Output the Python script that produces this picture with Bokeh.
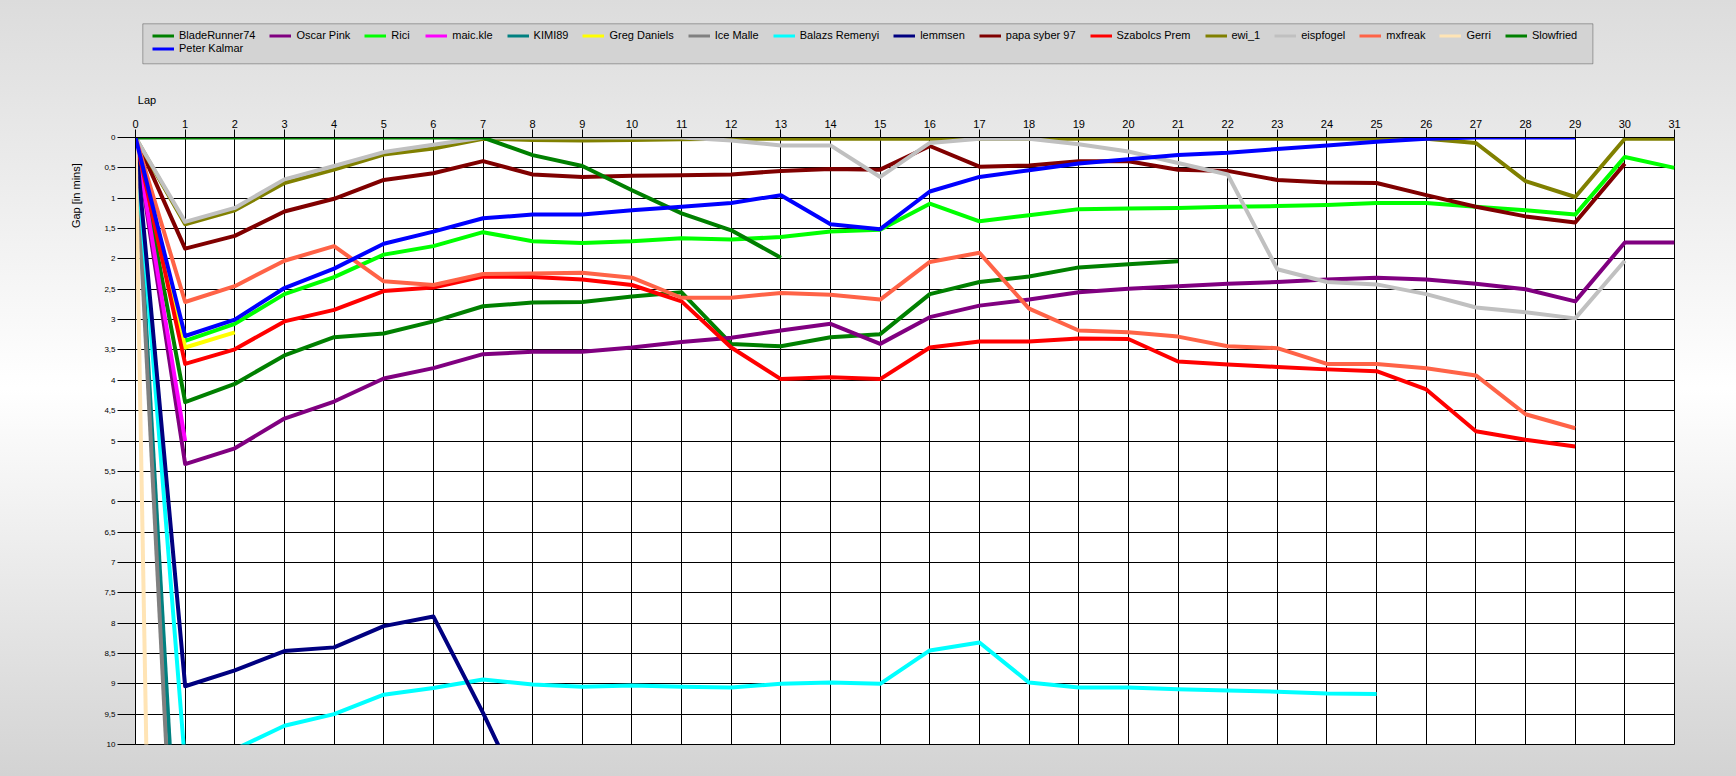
from bokeh.plotting import figure
from bokeh.layouts import column, row
from bokeh.models import (Range1d, FixedTicker, CustomJSTickFormatter, Legend,
                          LegendItem, Label, BoxAnnotation)
from bokeh.embed import file_html
from bokeh.resources import INLINE

# ---------------- data ----------------
laps = list(range(32))
y_ticks = [i * 0.5 for i in range(21)]

names = ["BladeRunner74", "Oscar Pink", "Rici", "maic.kle", "KIMI89", "Greg Daniels",
         "Ice Malle", "Balazs Remenyi", "lemmsen", "papa syber 97", "Szabolcs Prem",
         "ewi_1", "eispfogel", "mxfreak", "Gerri", "Slowfried", "Peter Kalmar"]
colors = ["#008000", "#800080", "#00FF00", "#FF00FF", "#008080", "#FFFF00",
          "#808080", "#00FFFF", "#000080", "#800000", "#FF0000",
          "#808000", "#C0C0C0", "#FF6347", "#FFE4B5", "#008000", "#0000FF"]

bladerunner = [0, 4.36, 4.06, 3.59, 3.29, 3.23, 3.03, 2.78, 2.72, 2.71, 2.62, 2.55, 3.40,
               3.44, 3.29, 3.24, 2.58, 2.38, 2.29, 2.14, 2.09, 2.04]
oscar = [0, 5.38, 5.12, 4.63, 4.35, 3.97, 3.80, 3.57, 3.53, 3.53, 3.46, 3.37, 3.30, 3.18,
         3.07, 3.40, 2.96, 2.77, 2.67, 2.55, 2.49, 2.45, 2.41, 2.38, 2.34, 2.31, 2.34,
         2.41, 2.50, 2.70, 1.73, 1.73]
rici = [0, 3.35, 3.07, 2.58, 2.30, 1.93, 1.79, 1.56, 1.71, 1.74, 1.71, 1.66, 1.68, 1.64,
        1.55, 1.52, 1.09, 1.38, 1.28, 1.18, 1.17, 1.16, 1.14, 1.13, 1.11, 1.08, 1.08,
        1.14, 1.20, 1.27, 0.32, 0.50]
maic = [0, 5.0]
kimi = [0, 14.5]
greg = [0, 3.46, 3.21]
icemalle = [0, 16.2]
balazs = [0, 10.33, 10.08, 9.69, 9.50, 9.18, 9.07, 8.93, 9.01, 9.05, 9.03, 9.05, 9.06,
          9.00, 8.98, 9.00, 8.45, 8.32, 8.98, 9.06, 9.06, 9.09, 9.11, 9.13, 9.16, 9.17]
lemmsen = [0, 9.04, 8.78, 8.46, 8.40, 8.05, 7.89, 9.48, 11.2]
papa = [0, 1.83, 1.62, 1.22, 1.01, 0.70, 0.59, 0.39, 0.61, 0.65, 0.63, 0.62, 0.61, 0.55,
        0.52, 0.53, 0.14, 0.48, 0.46, 0.39, 0.39, 0.53, 0.55, 0.70, 0.74, 0.75, 0.95,
        1.14, 1.30, 1.40, 0.43]
szabolcs = [0, 3.73, 3.49, 3.03, 2.84, 2.53, 2.47, 2.29, 2.30, 2.34, 2.43, 2.70, 3.46,
            3.98, 3.95, 3.98, 3.46, 3.36, 3.36, 3.31, 3.32, 3.69, 3.74, 3.78, 3.82, 3.85,
            4.15, 4.84, 4.98, 5.09]
ewi = [0, 1.43, 1.20, 0.75, 0.53, 0.28, 0.18, 0.02, 0.04, 0.05, 0.04, 0.03, 0.02, 0.02,
       0.02, 0.02, 0.02, 0.02, 0.02, 0.02, 0.02, 0.02, 0.02, 0.02, 0.02, 0.02, 0.02,
       0.09, 0.72, 0.98, 0.02, 0.02]
eispfogel = [0, 1.39, 1.16, 0.69, 0.47, 0.24, 0.12, 0.0, 0.0, 0.0, 0.0, 0.0, 0.05, 0.13,
             0.13, 0.65, 0.09, 0.02, 0.02, 0.11, 0.23, 0.42, 0.61, 2.17, 2.38, 2.42, 2.58,
             2.80, 2.88, 2.98, 2.03]
mxfreak = [0, 2.71, 2.45, 2.03, 1.79, 2.37, 2.43, 2.25, 2.24, 2.23, 2.31, 2.64, 2.64,
           2.56, 2.59, 2.67, 2.05, 1.90, 2.82, 3.18, 3.21, 3.28, 3.44, 3.47, 3.73, 3.73,
           3.80, 3.92, 4.56, 4.79]
gerri = [0, 46.0]
slowfried = [0, 0, 0, 0, 0, 0, 0, 0, 0.29, 0.47, 0.87, 1.25, 1.53, 1.98]
peter = [0, 3.27, 3.00, 2.48, 2.16, 1.75, 1.55, 1.33, 1.27, 1.27, 1.20, 1.14, 1.08, 0.95,
         1.43, 1.51, 0.89, 0.65, 0.54, 0.43, 0.36, 0.29, 0.25, 0.19, 0.13, 0.07, 0.02,
         0.0, 0.0, 0.0]

values = [bladerunner, oscar, rici, maic, kimi, greg, icemalle, balazs, lemmsen, papa,
          szabolcs, ewi, eispfogel, mxfreak, gerri, slowfried, peter]

# ---------------- layout (page px) ----------------
TOTAL_W, TOTAL_H = 1736, 776
TOP_H = 108          # legend strip height
LEFT_W = 95          # strip left of the main figure
MAIN_W, MAIN_H = TOTAL_W - LEFT_W, TOTAL_H - TOP_H
FONT = "Liberation Sans"
NAN = float("nan")

# ---- top strip: legend + "Lap" ----
pl = figure(width=TOTAL_W, height=TOP_H, x_range=Range1d(0, TOTAL_W),
            y_range=Range1d(TOP_H, 0), x_axis_type=None, y_axis_type=None,
            min_border=0, toolbar_location=None, output_backend="svg",
            outline_line_color=None, background_fill_color=None, border_fill_color=None)
pl.add_layout(BoxAnnotation(left=142.3, right=1592.4, top=23.3, bottom=63.3,
                            fill_color="#d3d3d3", fill_alpha=1, line_color="black",
                            line_width=1))
pl.add_layout(Label(x=137.3, y=99, text="Lap", text_font=FONT, text_font_size="11px",
                    text_color="black", text_align="left", text_baseline="middle"))

items = []
for name, col in zip(names, colors):
    # legend-only swatch renderer (no visible data in this strip)
    r = pl.line(x=[NAN, NAN], y=[NAN, NAN], line_width=3, line_color=col)
    items.append(LegendItem(label=name, renderers=[r]))


def make_legend(its, vy):
    return Legend(items=its, orientation="horizontal", location=(152, vy),
                  glyph_width=22, glyph_height=13, label_height=13, label_standoff=5,
                  spacing=14, padding=0, margin=0, border_line_color=None,
                  background_fill_alpha=0, label_text_font=FONT,
                  label_text_font_size="11px", label_text_color="black")


pl.add_layout(make_legend(items[:16], TOP_H - 41.5))
pl.add_layout(make_legend(items[16:], TOP_H - 54.8))

# ---- left strip: y title ----
pg = figure(width=LEFT_W, height=MAIN_H, x_range=Range1d(0, LEFT_W),
            y_range=Range1d(MAIN_H, 0), x_axis_type=None, y_axis_type=None,
            min_border=0, toolbar_location=None, output_backend="svg",
            outline_line_color=None, background_fill_color=None, border_fill_color=None)
pg.add_layout(Label(x=75, y=172 - TOP_H, text="Gap [in mins]", angle=1.5707963,
                    text_font=FONT, text_font_size="11px", text_color="black",
                    text_align="center", text_baseline="middle"))

# ---- main chart ----
FL = 40      # frame left in main canvas (page 135)
FT = 29      # frame top (page 137)
FR = 1579    # frame right (page 1674)
FB = 636     # frame bottom (page 744)

p = figure(width=MAIN_W, height=MAIN_H, x_range=Range1d(0, 31), y_range=Range1d(10, 0),
           x_axis_location="above", output_backend="svg", toolbar_location=None,
           min_border_left=FL, min_border_right=MAIN_W - FR, min_border_top=FT,
           min_border_bottom=MAIN_H - FB, background_fill_color="white",
           border_fill_color=None, outline_line_color="black", outline_line_width=1)

xa = p.xaxis[0]
xa.ticker = FixedTicker(ticks=laps)
xa.major_label_text_font = FONT
xa.major_label_text_font_size = "11px"
xa.major_label_text_color = "black"
xa.major_tick_out = 8
xa.major_tick_in = 0
xa.minor_tick_line_color = None
xa.major_tick_line_color = "black"
xa.axis_line_color = "black"
xa.major_label_standoff = 2

ya = p.yaxis[0]
ya.ticker = FixedTicker(ticks=y_ticks)
ya.formatter = CustomJSTickFormatter(code="return tick.toString().replace('.', ',');")
ya.major_label_text_font = FONT
ya.major_label_text_font_size = "8px"
ya.major_label_text_color = "black"
ya.major_tick_out = 18
ya.major_tick_in = 0
ya.minor_tick_line_color = None
ya.major_tick_line_color = "black"
ya.axis_line_color = "black"
ya.major_label_standoff = 2

p.xgrid.ticker = FixedTicker(ticks=laps)
p.ygrid.ticker = FixedTicker(ticks=y_ticks)
for g in (p.xgrid, p.ygrid):
    g.grid_line_color = "black"
    g.grid_line_alpha = 1
    g.grid_line_width = 1

for name, col, vals in zip(names, colors, values):
    p.line(laps[:len(vals)], vals, line_width=4, line_color=col, line_join="round",
           name=name)

layout = column(pl, row(pg, p, spacing=0), spacing=0)
layout.styles = {"background": "linear-gradient(to bottom, #dcdcdc 0px, #ffffff 388px, #d3d3d3 776px)"}

open("out.html", "w").write(file_html(layout, INLINE))
